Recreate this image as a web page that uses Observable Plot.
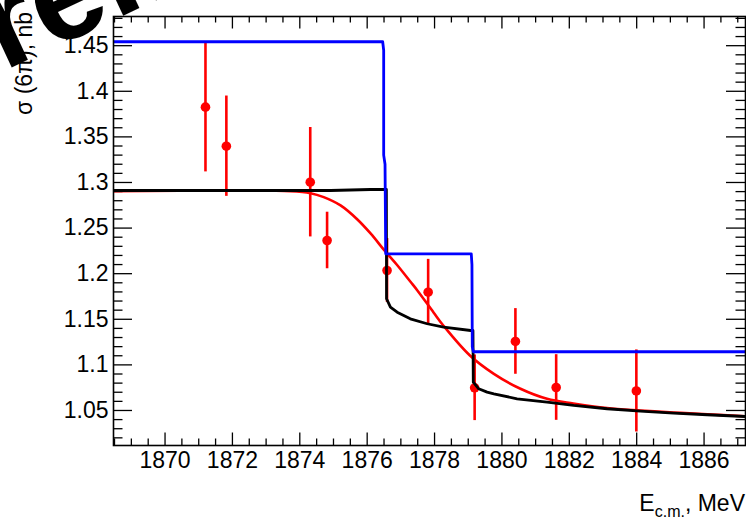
<!DOCTYPE html>
<html>
<head>
<meta charset="utf-8">
<script src="https://cdn.jsdelivr.net/npm/d3@7"></script>
<script src="https://cdn.jsdelivr.net/npm/@observablehq/plot@0.6"></script>
<style>
  html, body { margin: 0; padding: 0; background: white; }
  #chart svg { display: block; }
</style>
</head>
<body>
<div id="chart"></div>
<script>
// ---- Data ----
const pointE   = [1871.2, 1871.82, 1874.31, 1874.81, 1876.59, 1877.81, 1879.19, 1880.4, 1881.61, 1883.99];
const pointSig = [1.3826, 1.3398, 1.3003, 1.2364, 1.2035, 1.1797, 1.0749, 1.1257, 1.0752, 1.0714];
const pointErr = [0.071, 0.055, 0.060, 0.031, 0.035, 0.036, 0.036, 0.036, 0.036, 0.045];

const blueE   = [1868.47, 1876.46, 1876.49, 1876.49, 1876.53, 1876.55, 1879.09, 1879.11, 1879.12, 1879.15, 1887.23];
const blueSig = [1.4543, 1.4543, 1.445, 1.33, 1.32, 1.2218, 1.2218, 1.21, 1.12, 1.1144, 1.1144];

const blackE   = [1868.47, 1874.91, 1876.1, 1876.54, 1876.57, 1876.575, 1876.69, 1876.89, 1877.28, 1877.78, 1878.27, 1879.07, 1879.14, 1879.15, 1879.31, 1879.56, 1879.76, 1880.45, 1881.34, 1882.13, 1883.12, 1884.11, 1885.1, 1886.09, 1887.23];
const blackSig = [1.2912, 1.2912, 1.2923, 1.2923, 1.2923, 1.1725, 1.1633, 1.1578, 1.1505, 1.1451, 1.1413, 1.1377, 1.1377, 1.081, 1.0738, 1.0701, 1.0683, 1.0628, 1.0591, 1.0555, 1.0519, 1.0492, 1.047, 1.0453, 1.0434];

const redE   = [1868.47, 1873.72, 1874.32, 1874.71, 1875.21, 1875.71, 1876.1, 1876.54, 1876.9, 1877.28, 1877.49, 1877.97, 1878.26, 1879.05, 1879.76, 1880.55, 1881.34, 1882.12, 1883.12, 1884.11, 1885.09, 1886.1, 1887.23];
const redSig = [1.2905, 1.2905, 1.2883, 1.2839, 1.2748, 1.2594, 1.2441, 1.2243, 1.209, 1.1914, 1.1816, 1.1575, 1.1432, 1.1103, 1.0902, 1.0738, 1.0628, 1.0577, 1.0527, 1.05, 1.0478, 1.0458, 1.0437];

const xMajor = [1870, 1872, 1874, 1876, 1878, 1880, 1882, 1884, 1886];
const xMinor = d3.range(1868.5, 1887.01, 0.5).filter(v => v % 2 !== 0);
const yMajor = [1.05, 1.1, 1.15, 1.2, 1.25, 1.3, 1.35, 1.4, 1.45];
const yMinor = d3.range(102, 149).map(v => v / 100).filter(v => Math.round(v * 100) % 5 !== 0);

const xDomain = [1868.47, 1887.23];
const yDomain = [1.0116, 1.482];

const xTitle = ["E", "c.m.", ", MeV"];
const yTitle = "σ (6π), nb";
const watermark = "Preliminary";

// ---- Build tables ----
const points = pointE.map((e, i) => ({e, s: pointSig[i], err: pointErr[i]}));
const toRows = (xs, ys) => xs.map((e, i) => ({e, s: ys[i]}));
const blue = toRows(blueE, blueSig);
const black = toRows(blackE, blackSig);
const red = toRows(redE, redSig);

const W = 746, H = 519;
const mL = 113, mR = 1, mT = 16, mB = 74;
const innerW = W - mL - mR, innerH = H - mT - mB;

const font = "'Liberation Sans', Arial, Helvetica, sans-serif";

const chart = Plot.plot({
  width: W, height: H,
  marginLeft: mL, marginRight: mR, marginTop: mT, marginBottom: mB,
  x: {domain: xDomain, axis: null},
  y: {domain: yDomain, axis: null},
  style: {fontFamily: font, fontSize: "23px", background: "white", color: "black"},
  marks: [
    // tick labels
    Plot.axisX(xMajor, {anchor: "bottom", tickSize: 0, tickPadding: 6, fontSize: 23, tickFormat: d => String(d), label: null}),
    Plot.axisY(yMajor, {anchor: "left", tickSize: 0, tickPadding: 5, fontSize: 23, tickFormat: d => String(+d.toFixed(2)), label: null}),
    // ticks (inside the frame, ROOT style)
    Plot.tickX(xMajor, {x: d => d, insetTop: innerH - 12.5, stroke: "black", strokeWidth: 1.3}),
    Plot.tickX(xMinor, {x: d => d, insetTop: innerH - 6.5, stroke: "black", strokeWidth: 1.3}),
    Plot.tickX(xMajor, {x: d => d, insetBottom: innerH - 12.5, stroke: "black", strokeWidth: 1.3}),
    Plot.tickX(xMinor, {x: d => d, insetBottom: innerH - 6.5, stroke: "black", strokeWidth: 1.3}),
    Plot.tickY(yMajor, {y: d => d, insetRight: innerW - 19, stroke: "black", strokeWidth: 1.3}),
    Plot.tickY(yMinor, {y: d => d, insetRight: innerW - 9.5, stroke: "black", strokeWidth: 1.3}),
    Plot.tickY(yMajor, {y: d => d, insetLeft: innerW - 19, stroke: "black", strokeWidth: 1.3}),
    Plot.tickY(yMinor, {y: d => d, insetLeft: innerW - 9.5, stroke: "black", strokeWidth: 1.3}),
    // data points with error bars
    Plot.ruleX(points, {x: "e", y1: d => d.s - d.err, y2: d => d.s + d.err, stroke: "#ff0000", strokeWidth: 2.6, clip: true}),
    Plot.dot(points, {x: "e", y: "s", r: 4.8, fill: "#ff0000", stroke: "none"}),
    // curves
    Plot.line(red, {x: "e", y: "s", stroke: "#ff0000", strokeWidth: 2.6, curve: "catmull-rom", clip: true}),
    Plot.line(black, {x: "e", y: "s", stroke: "black", strokeWidth: 2.8, clip: true}),
    Plot.line(blue, {x: "e", y: "s", stroke: "#0000ff", strokeWidth: 2.8, clip: true}),
    Plot.frame({stroke: "black", strokeWidth: 1.6})
  ]
});

const svg = d3.select(chart);

// watermark (mostly outside the canvas)
svg.insert("text", ":first-child")
  .attr("transform", "translate(-75,108) rotate(-25)")
  .attr("text-anchor", "start")
  .attr("font-family", font)
  .attr("font-weight", "bold")
  .attr("font-size", 130)
  .attr("fill", "black")
  .text(watermark);

// y-axis title
svg.append("text")
  .attr("transform", "translate(32,12) rotate(-90)")
  .attr("text-anchor", "end")
  .attr("font-family", font)
  .attr("font-size", 23)
  .attr("fill", "black")
  .text(yTitle);

// x-axis title with subscript
const xt = svg.append("text")
  .attr("x", 745).attr("y", 511)
  .attr("text-anchor", "end")
  .attr("font-family", font)
  .attr("font-size", 23)
  .attr("fill", "black");
xt.append("tspan").text(xTitle[0]);
xt.append("tspan").attr("font-size", 16).attr("dy", 6).text(xTitle[1]);
xt.append("tspan").attr("dy", -6).text(xTitle[2]);

document.getElementById("chart").appendChild(chart);
</script>
</body>
</html>
